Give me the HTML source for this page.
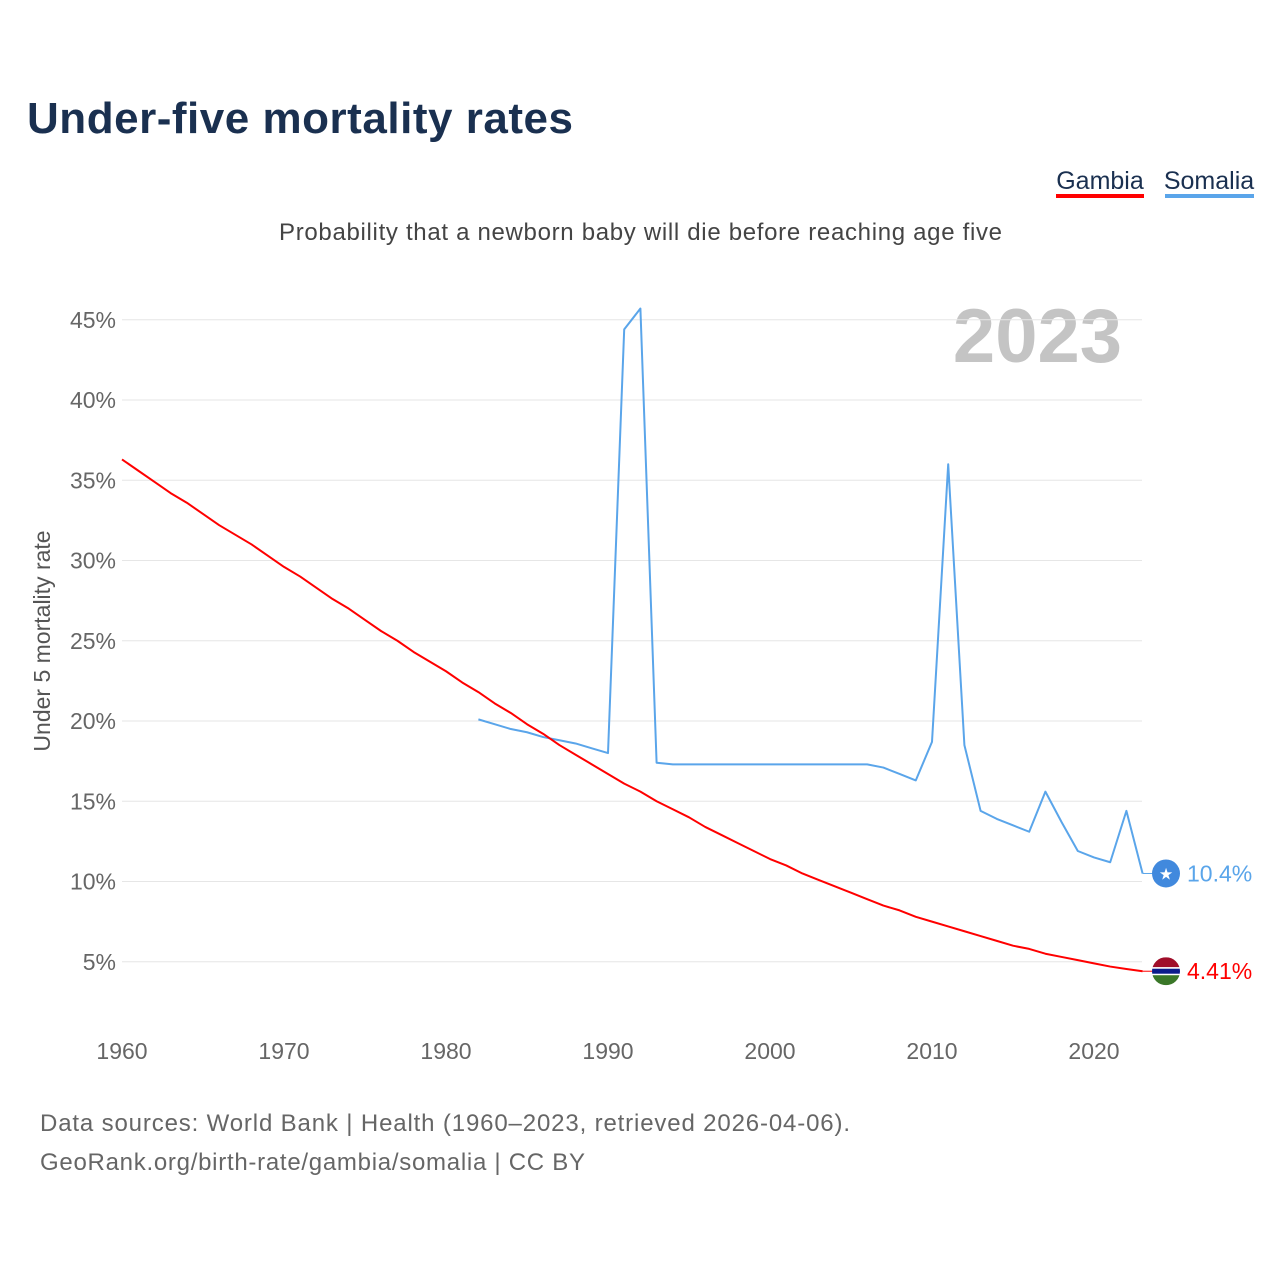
<!DOCTYPE html>
<html><head><meta charset="utf-8"><style>
body{margin:0;background:#fff;font-family:"Liberation Sans",sans-serif;}
#wrap{position:relative;width:1280px;height:1280px;overflow:hidden}
</style></head><body>
<div id="wrap">
<svg id="chart" width="1280" height="1280">
<text x="27" y="133" font-size="44" font-weight="bold" fill="#1a3050" textLength="546">Under-five mortality rates</text>
<g><text x="1100" y="189" font-size="25" fill="#1a3050" text-anchor="middle">Gambia</text><rect x="1056" y="194" width="88" height="4" fill="#f00"/></g>
<g><text x="1209" y="189" font-size="25" fill="#1a3050" text-anchor="middle">Somalia</text><rect x="1165" y="194" width="89" height="4" fill="#5aa5ea"/></g>
<text x="279" y="240" font-size="24" fill="#444" textLength="723">Probability that a newborn baby will die before reaching age five</text>
<text x="1122" y="362" font-size="76" font-weight="bold" fill="#c4c4c4" text-anchor="end">2023</text>
<text transform="translate(50,641) rotate(-90)" font-size="23" fill="#555" text-anchor="middle">Under 5 mortality rate</text>
<g id="grid"></g><g id="series"></g>
<text x="40" y="1131" font-size="24" fill="#666" textLength="810">Data sources: World Bank | Health (1960–2023, retrieved 2026-04-06).</text>
<text x="40" y="1170" font-size="24" fill="#666" textLength="545">GeoRank.org/birth-rate/gambia/somalia | CC BY</text>
</svg></div>
<script>
const yTicks=[5,10,15,20,25,30,35,40,45];
const xTicks=[1960,1970,1980,1990,2000,2010,2020];
const gambiaStart=1960;
const gambia=[36.3,35.6,34.9,34.2,33.6,32.9,32.2,31.6,31.0,30.3,29.6,29.0,28.3,27.6,27.0,26.3,25.6,25.0,24.3,23.7,23.1,22.4,21.8,21.1,20.5,19.8,19.2,18.5,17.9,17.3,16.7,16.1,15.6,15.0,14.5,14.0,13.4,12.9,12.4,11.9,11.4,11.0,10.5,10.1,9.7,9.3,8.9,8.5,8.2,7.8,7.5,7.2,6.9,6.6,6.3,6.0,5.8,5.5,5.3,5.1,4.9,4.7,4.55,4.41];
const somaliaStart=1982;
const somalia=[20.1,19.8,19.5,19.3,19.0,18.8,18.6,18.3,18.0,44.4,45.7,17.4,17.3,17.3,17.3,17.3,17.3,17.3,17.3,17.3,17.3,17.3,17.3,17.3,17.3,17.1,16.7,16.3,18.7,36.0,18.5,14.4,13.9,13.5,13.1,15.6,13.7,11.9,11.5,11.2,14.4,10.5];
const NS="http://www.w3.org/2000/svg";
const X=y=>122+(y-1960)*16.2, Y=v=>1042-v*16.05;
function mk(t,a,p){const e=document.createElementNS(NS,t);for(const k in a)e.setAttribute(k,a[k]);p.appendChild(e);return e;}
const grid=document.getElementById('grid'), ser=document.getElementById('series');
yTicks.forEach(v=>{
 const l=mk('line',{x1:122,x2:1142,y1:Y(v),y2:Y(v),stroke:'#e6e6e6','stroke-width':1},grid);
 
 
 const t=mk('text',{x:116,y:Y(v)+8,'font-size':23,fill:'#666','text-anchor':'end'},grid);t.textContent=v+'%';
 
 
});
xTicks.forEach(v=>{
 const t=mk('text',{x:X(v),y:1059,'font-size':23,fill:'#666','text-anchor':'middle'},grid);t.textContent=v;
 
 
});
function line(arr,start,color,name,label){
 const pts=arr.map((v,i)=>X(start+i)+','+Y(v));
 const p=mk('polyline',{points:pts.join(' '),fill:'none',stroke:color,'stroke-width':2,'stroke-linejoin':'round'},ser);
 
 
 const last=arr[arr.length-1], lx=X(start+arr.length-1);
 mk('line',{x1:lx,x2:1155,y1:Y(last),y2:Y(last),stroke:color,'stroke-width':1},ser);
 const t=mk('text',{x:1187,y:Y(last)+8,'font-size':23,fill:color},ser);t.textContent=label;
 
 
 return Y(last);
}
const sy=line(somalia,somaliaStart,'#5aa5ea','somalia','10.4%');
const gy=line(gambia,gambiaStart,'#f00','gambia','4.41%');
const sf=mk('g',{},ser);


mk('circle',{cx:1166,cy:sy,r:14,fill:'#4189dd'},sf);
const st=mk('text',{x:1166,y:sy+6,'font-size':16,fill:'#fff','text-anchor':'middle'},sf);st.textContent='★';
const gf=mk('g',{},ser);


mk('clipPath',{id:'gc'},gf);
mk('circle',{cx:1166,cy:gy,r:14},document.getElementById('gc'));
const gg=mk('g',{'clip-path':'url(#gc)'},gf);
mk('rect',{x:1150,y:gy-14,width:32,height:10,fill:'#a00e2a'},gg);
mk('rect',{x:1150,y:gy-4,width:32,height:8,fill:'#fff'},gg);
mk('rect',{x:1150,y:gy-2.5,width:32,height:5,fill:'#0c1c8c'},gg);
mk('rect',{x:1150,y:gy+4,width:32,height:10,fill:'#3a7728'},gg);
</script></body></html>
